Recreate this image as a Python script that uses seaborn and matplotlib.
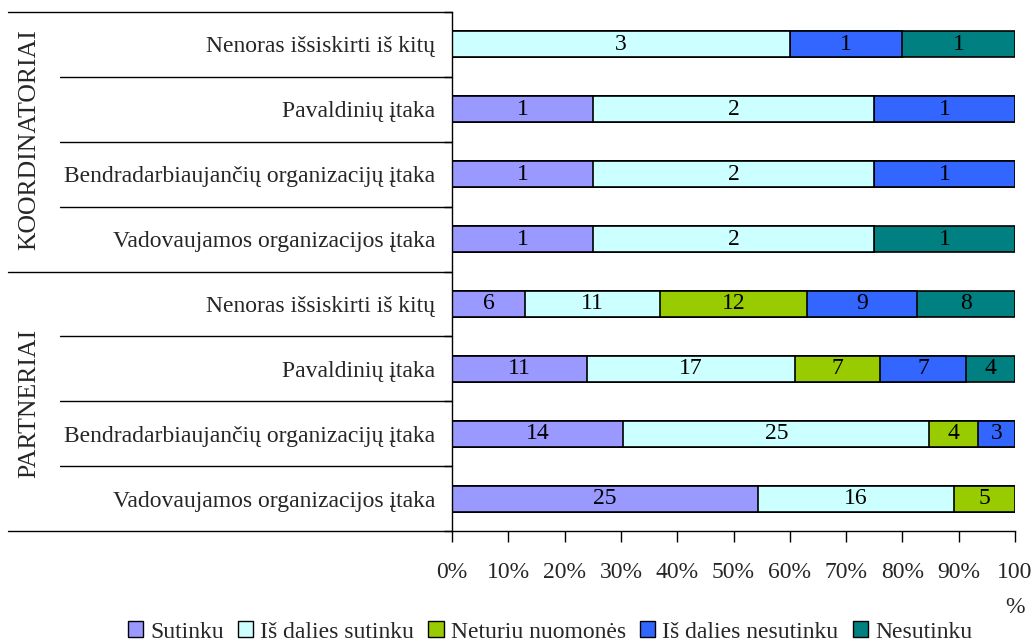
import numpy as np
import pandas as pd
import matplotlib
matplotlib.use("Agg")
import matplotlib.pyplot as plt
import seaborn as sns
from matplotlib.lines import Line2D
from matplotlib.patches import Patch

sns.set_style("white")
plt.rcParams['font.family'] = ['Liberation Serif', 'DejaVu Serif']

groups = ["KOORDINATORIAI", "PARTNERIAI"]
row_labels = ["Nenoras išsiskirti iš kitų", "Pavaldinių įtaka",
              "Bendradarbiaujančių organizacijų įtaka", "Vadovaujamos organizacijos įtaka",
              "Nenoras išsiskirti iš kitų", "Pavaldinių įtaka",
              "Bendradarbiaujančių organizacijų įtaka", "Vadovaujamos organizacijos įtaka"]
series = ["Sutinku", "Iš dalies sutinku", "Neturiu nuomonės", "Iš dalies nesutinku", "Nesutinku"]
colors = ["#9999FF", "#CCFFFF", "#99CC00", "#3366FF", "#008080"]

sutinku =            [0, 1, 1, 1, 6, 11, 14, 25]
is_dalies_sutinku =  [3, 2, 2, 2, 11, 17, 25, 16]
neturiu_nuomones =   [0, 0, 0, 0, 12, 7, 4, 5]
is_dalies_nesutinku = [1, 1, 1, 0, 9, 7, 3, 0]
nesutinku =          [1, 0, 0, 1, 8, 4, 0, 0]
xticklabels = ["0%", "10%", "20%", "30%", "40%", "50%", "60%", "70%", "80%", "90%", "100\n%"]

vals = np.array([sutinku, is_dalies_sutinku, neturiu_nuomones, is_dalies_nesutinku, nesutinku], dtype=float)
totals = vals.sum(axis=0)
pct = vals / totals * 100
cum = np.cumsum(pct, axis=0)

keys = [f"r{i}" for i in range(len(row_labels))]
df = pd.DataFrame({"key": keys})
for i, s in enumerate(series):
    df[s + "_cum"] = cum[i]

FS = 17
W, H = 1035, 643
fig = plt.figure(figsize=(W / 100, H / 100), dpi=100)
ax = fig.add_axes([452 / W, 1 - 531 / H, (1015 - 452) / W, (531 - 12) / H])

for i in range(len(series) - 1, -1, -1):
    sns.barplot(data=df, x=series[i] + "_cum", y="key", order=keys, orient="h",
                color=colors[i], edgecolor="black", linewidth=1.2, width=0.4,
                saturation=1, ax=ax)

# value labels
for i in range(len(series)):
    for j in range(len(keys)):
        v = vals[i, j]
        if v > 0:
            xc = cum[i, j] - pct[i, j] / 2
            ax.text(xc, j, f"{int(v)}", ha="center", va="center", fontsize=FS, color="black")

ax.set_xlim(0, 100)
ax.set_ylim(len(keys) - 0.5, -0.5)
ax.set_xlabel("")
ax.set_ylabel("")
ax.set_xticks(np.arange(0, 101, 10))
ax.set_xticklabels(xticklabels, fontsize=FS)
for t in ax.get_xticklabels():
    t.set_linespacing(1.9)
ax.set_yticks(range(len(keys)))
ax.set_yticklabels(row_labels, fontsize=FS)
ax.tick_params(axis="y", length=0, pad=12)
ax.tick_params(axis="x", length=8, width=1, direction="out", pad=14, bottom=True, color="black")
ax.set_yticks(np.arange(-0.5, len(keys), 1), minor=True)
ax.tick_params(axis="y", which="minor", length=6, width=1, left=True, color="black")

for s in ["top", "right"]:
    ax.spines[s].set_visible(False)
for s in ["left", "bottom"]:
    ax.spines[s].set_color("black")
    ax.spines[s].set_linewidth(1)

trans = ax.get_yaxis_transform()
x_left_full = (8 - 452) / (1015 - 452)
x_left_inner = (60 - 452) / (1015 - 452)
for yb in [-0.5, 3.5, 7.5]:
    ax.add_line(Line2D([x_left_full, 0], [yb, yb], transform=trans, color="black", lw=1, clip_on=False))
for yb in [0.5, 1.5, 2.5, 4.5, 5.5, 6.5]:
    ax.add_line(Line2D([x_left_inner, 0], [yb, yb], transform=trans, color="black", lw=1, clip_on=False))

# group labels
fig.text(29 / W, 1 - 140 / H, groups[0], rotation=90, ha="center", va="center", fontsize=18.5)
fig.text(29 / W, 1 - 403 / H, groups[1], rotation=90, ha="center", va="center", fontsize=18.5)

handles = [Patch(facecolor=c, edgecolor="black", linewidth=1) for c in colors]
fig.legend(handles, series, loc="center", bbox_to_anchor=(550 / W, 1 - 632 / H), ncol=5,
           frameon=False, fontsize=FS, handlelength=0.65, handleheight=0.65, handletextpad=0.3,
           columnspacing=0.6, borderaxespad=0)

fig.savefig("out.png", dpi=100)
